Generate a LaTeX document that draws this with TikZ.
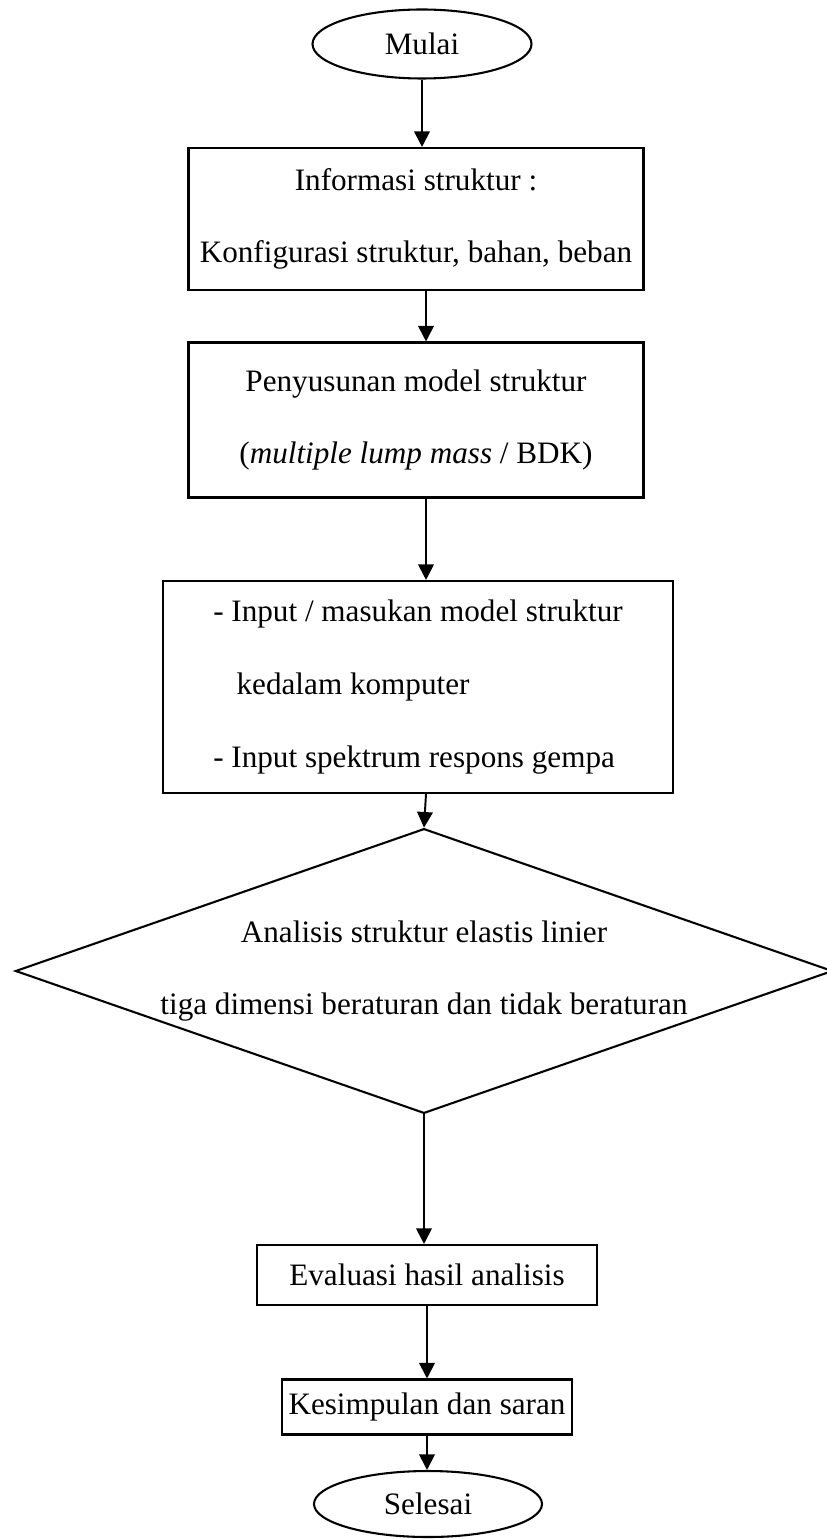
\documentclass[tikz,border=0pt]{standalone}
\usepackage{fontspec}
\setmainfont{Liberation Serif}
\usetikzlibrary{arrows.meta,positioning,shapes.geometric}

\begin{document}
\begin{tikzpicture}[x=0.385pt, y=-0.385pt,
        every node/.style={font=\fontsize{12}{28}\selectfont},
        terminal/.style={ellipse, draw, line width=0.8pt, inner sep=0pt},
        procbox/.style={rectangle, draw, line width=0.8pt, inner sep=0pt, align=center},
        decision/.style={diamond, draw, line width=0.8pt, inner sep=0pt, aspect=2.87, align=center},
        flow/.style={-{Triangle[length=6pt,width=6pt]}, line width=0.75pt}]
        \def\px{0.385pt}
        \useasboundingbox (0,0) rectangle (826,1539);
        \coordinate (axis) at (426,0);

        \node(start) [terminal, minimum width = 219*\px, minimum height = 69*\px] at (422,44) {Mulai};
        \node(info) [procbox, minimum width = 455*\px, minimum height = 142*\px] at (416,219) {Informasi struktur :\\Konfigurasi struktur, bahan, beban};
        \node(model) [procbox, minimum width = 455*\px, minimum height = 155*\px] at (416,420) {Penyusunan model struktur\\(\textit{multiple lump mass} / BDK)};
        \node(input) [procbox, align=left, minimum width = 510*\px, minimum height = 212*\px] at (418,687) {- Input / masukan model struktur\\\hspace*{9pt}kedalam komputer\\- Input spektrum respons gempa};
        \node(analysis) [decision, minimum width = 808*\px, minimum height = 282*\px] at (424,971) {Analisis struktur elastis linier\\tiga dimensi beraturan dan tidak beraturan};
        \node(eval) [procbox, minimum width = 340*\px, minimum height = 60*\px] at (427,1275) {Evaluasi hasil analisis};
        \node(concl) [procbox, minimum width = 290*\px, minimum height = 55*\px] at (427,1407) {Kesimpulan dan saran};
        \node(stop) [terminal, minimum width = 228*\px, minimum height = 66*\px] at (428,1504) {Selesai};

        \draw[flow] (start.south) -- (start.south |- info.north);
        \draw[flow] (info.south -| axis) -- (model.north -| axis);
        \draw[flow] (model.south -| axis) -- (input.north -| axis);
        \draw[flow] (input.south -| axis) -- (analysis.north);
        \draw[flow] (analysis.south) -- (analysis.south |- eval.north);
        \draw[flow] (eval.south) -- (eval.south |- concl.north);
        \draw[flow] (concl.south) -- (concl.south |- stop.north);
    \end{tikzpicture}
\end{document}
